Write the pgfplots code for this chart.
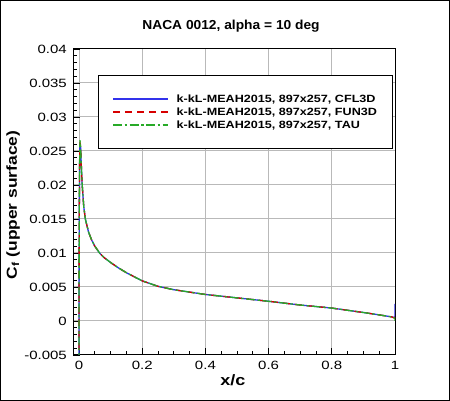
\documentclass[border=0pt]{standalone}
\usepackage{fontspec}
\setmainfont{Liberation Sans}
\newfontfamily\wide[FakeStretch=1.2]{Liberation Sans}
\newfontfamily\tickfont[FakeStretch=1.25]{Liberation Sans}
\newfontfamily\titlefont[FakeStretch=1.06]{Liberation Sans}
\usepackage{pgfplots}
\usepackage{pgfplotstable}
\pgfplotsset{compat=1.18}

\definecolor{cflblue}{RGB}{50,50,235}
\definecolor{funred}{RGB}{215,0,0}
\definecolor{taugreen}{RGB}{40,170,40}

% Cf on the upper surface
\pgfplotstableread{
x cf
0 -0.0060
0.0003 0.0100
0.0015 0.0220
0.003 0.0262
0.005 0.0255
0.0075 0.0225
0.01 0.0200
0.015 0.0168
0.02 0.0150
0.03 0.0131
0.04 0.0119
0.05 0.0110
0.065 0.0100
0.08 0.0093
0.1 0.0086
0.125 0.0078
0.15 0.0071
0.175 0.0065
0.2 0.0059
0.25 0.0051
0.3 0.0046
0.35 0.00425
0.4 0.0039
0.5 0.0034
0.6 0.0029
0.7 0.00235
0.8 0.0019
0.9 0.00125
0.95 0.0009
0.99 0.0006
1.0 0.0005
1.0 0.0025
}\cflthreed

\pgfplotstableread{
x cf
0 -0.0060
0.0003 0.0100
0.0015 0.0222
0.003 0.0263
0.005 0.0256
0.0075 0.0226
0.01 0.0200
0.015 0.0168
0.02 0.0150
0.03 0.0131
0.04 0.0119
0.05 0.0110
0.065 0.0100
0.08 0.0093
0.1 0.0086
0.125 0.0078
0.15 0.0071
0.175 0.0065
0.2 0.0059
0.25 0.0051
0.3 0.0046
0.35 0.00425
0.4 0.0039
0.5 0.0034
0.6 0.0029
0.7 0.00235
0.8 0.0019
0.9 0.00125
0.95 0.0009
0.99 0.0006
1.0 0.0004
1.0 0.0008
}\funthreed

\pgfplotstableread{
x cf
0 -0.0060
0.0003 0.0105
0.0015 0.0226
0.003 0.0266
0.005 0.0257
0.0075 0.0226
0.01 0.0201
0.015 0.0168
0.02 0.0150
0.03 0.0131
0.04 0.0119
0.05 0.0110
0.065 0.0100
0.08 0.0093
0.1 0.0086
0.125 0.0078
0.15 0.0071
0.175 0.0065
0.2 0.0059
0.25 0.0051
0.3 0.0046
0.35 0.00425
0.4 0.0039
0.5 0.0034
0.6 0.0029
0.7 0.00235
0.8 0.0019
0.9 0.00125
0.95 0.0009
0.99 0.0006
1.0 0.0004
1.0 0.0000
}\tau

\begin{document}
\begin{tikzpicture}
\begin{axis}[
  at={(0,0)}, anchor=south west,
  scale only axis, width=321.5pt, height=306pt,
  xmin=-0.0175, xmax=1, ymin=-0.005, ymax=0.04,
  xtick={0,0.2,0.4,0.6,0.8,1},
  ytick={-0.005,0,0.005,0.01,0.015,0.02,0.025,0.03,0.035,0.04},
  minor x tick num=3, minor y tick num=4,
  scaled y ticks=false, scaled x ticks=false,
  tick align=inside, tick pos=left,
  major tick length=7pt, minor tick length=4pt,
  every tick/.style={black, line width=0.9pt},
  grid=major, major grid style={gray!55, line width=1pt},
  axis line style={black, line width=1pt},
  /pgf/number format/assume math mode=true,
  ticklabel style={font=\tickfont\fontsize{12}{14}\selectfont},
  yticklabel style={/pgf/number format/fixed, /pgf/number format/precision=3, inner sep=0pt, xshift=-6.5pt},
  xticklabel style={inner sep=0pt, yshift=-6pt},
  title={NACA 0012, alpha = 10 deg},
  title style={at={(axis description cs:0.49,1.056)}, anchor=center, font=\titlefont\bfseries\fontsize{13}{15}\selectfont},
  xlabel={x/c},
  xlabel style={at={(axis description cs:0.496,-0.082)}, anchor=center, font=\wide\bfseries\fontsize{15}{18}\selectfont},
  ylabel={C\textsubscript{f} (upper surface)},
  ylabel style={at={(axis description cs:-0.188,0.49)}, anchor=center, font=\wide\bfseries\fontsize{14.5}{18}\selectfont},
  legend image code/.code={\draw[#1, line width=1.4pt] (0pt,0pt) -- (55pt,0pt);},
  legend cell align=left,
  legend style={at={(axis description cs:0.076,0.915)}, anchor=north west,
    draw=black, line width=0.8pt, fill=white,
    inner xsep=14pt, inner ysep=18pt, row sep=2pt,
    nodes={inner sep=1pt},
    font=\wide\bfseries\fontsize{10.5}{13}\selectfont,
    /tikz/every odd column/.append style={column sep=7pt}},
]
\addplot[cflblue, line width=1.3pt] table[x=x, y=cf] {\cflthreed};
\addplot[funred, line width=1.3pt, dash pattern=on 7pt off 5pt] table[x=x, y=cf] {\funthreed};
\addplot[taugreen, line width=1.3pt, dash pattern=on 9pt off 2.5pt on 2.5pt off 2.5pt] table[x=x, y=cf] {\tau};
\legend{{k-kL-MEAH2015, 897x257, CFL3D}, {k-kL-MEAH2015, 897x257, FUN3D}, {k-kL-MEAH2015, 897x257, TAU}}
\end{axis}
\draw[line width=1.2pt] (-72.9pt,-45.4pt) rectangle (375.9pt,354.4pt);
\pgfresetboundingbox
\path (-73.5pt,-46pt) rectangle (376.5pt,355pt);
\end{tikzpicture}
\end{document}
